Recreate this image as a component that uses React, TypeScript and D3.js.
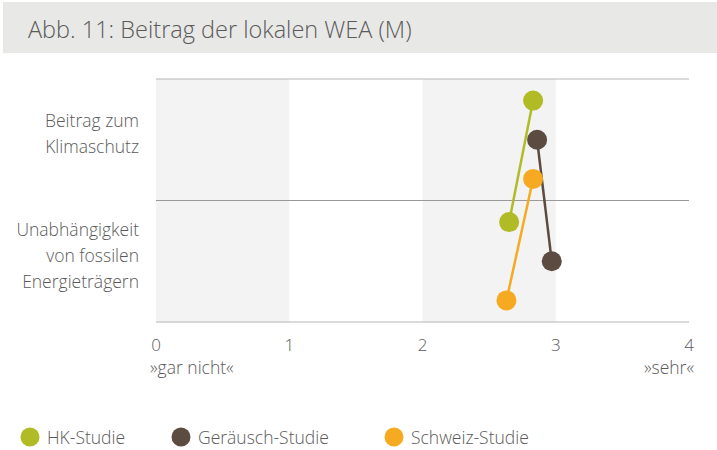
import React from "react";
import * as d3 from "d3";

const categories = ["Beitrag zum Klimaschutz", "Unabhängigkeit von fossilen Energieträgern"];
const categoryLines = [["Beitrag zum", "Klimaschutz"], ["Unabhängigkeit", "von fossilen", "Energieträgern"]];
const seriesNames = ["HK-Studie", "Geräusch-Studie", "Schweiz-Studie"];
const seriesColors = ["#b0bb26", "#5b4b41", "#f5aa22"];
const hkValues = [2.83, 2.65];
const geraeuschValues = [2.86, 2.97];
const schweizValues = [2.83, 2.63];
const xTicks = [0, 1, 2, 3, 4];
const shadedBands = [[0, 1], [2, 3]];

const W = 717, H = 450;
const left = 156, right = 689, top = 79, bottom = 322;

export default function App() {
  const x = d3.scaleLinear().domain([0, 4]).range([left, right]);
  const yBand = d3.scaleBand().domain(categories).range([top, bottom]);
  const ySub = d3.scalePoint().domain(seriesNames).range([0, yBand.bandwidth()]).padding(0.55);
  const seriesValues = [hkValues, geraeuschValues, schweizValues];
  const font = "'Open Sans', sans-serif";
  const textColor = "#5a5a5a";
  const line = d3.line<[number, number]>().x(d => d[0]).y(d => d[1]);

  return (
    <svg width={W} height={H} style={{ position: "absolute", left: 0, top: 0 }} fontFamily={font}>
      <rect x={3} y={2} width={W - 3} height={51} fill="#e8e8e6" />
      <text x={28} y={38} fontSize={23.5} fontWeight={300} fill={textColor}>Abb. 11: Beitrag der lokalen WEA (M)</text>

      {shadedBands.map((b, i) => (
        <rect key={i} x={x(b[0])} y={top} width={x(b[1]) - x(b[0])} height={bottom - top} fill="#f3f3f3" />
      ))}
      {[top, yBand(categories[1])!, bottom].map((yy, i) => (
        <line key={i} x1={left} x2={right} y1={yy} y2={yy} stroke={i === 1 ? "#999" : "#b5b5b5"} strokeWidth={1.2} />
      ))}

      {categories.map((c, ci) => {
        const lines = categoryLines[ci];
        const cy = yBand(c)! + yBand.bandwidth() / 2;
        const lh = 26;
        const y0 = cy - ((lines.length - 1) * lh) / 2 + 0.5;
        return lines.map((t, li) => (
          <text key={ci + "-" + li} x={139} y={y0 + li * lh} textAnchor="end" fontSize={17.5} fontWeight={300} fill={textColor}>{t}</text>
        ));
      })}

      {seriesNames.map((s, si) => {
        const pts: [number, number][] = categories.map((c, ci) => [x(seriesValues[si][ci]), yBand(c)! + ySub(s)!]);
        return (
          <g key={s}>
            <path d={line(pts)!} stroke={seriesColors[si]} strokeWidth={2.5} fill="none" />
            {pts.map((p, pi) => (
              <circle key={pi} cx={p[0]} cy={p[1]} r={10} fill={seriesColors[si]} />
            ))}
          </g>
        );
      })}

      {xTicks.map(t => (
        <text key={t} x={x(t)} y={350.5} textAnchor="middle" fontSize={17} fontWeight={300} fill={textColor}>{t}</text>
      ))}
      <text x={x(0) - 6} y={373.5} fontSize={17.5} fontWeight={300} fill={textColor}>»gar nicht«</text>
      <text x={x(4) + 5} y={373.5} textAnchor="end" fontSize={17.5} fontWeight={300} fill={textColor}>»sehr«</text>

      {seriesNames.map((s, si) => {
        const lx = [30, 181, 394][si];
        return (
          <g key={s}>
            <circle cx={lx} cy={437} r={9.5} fill={seriesColors[si]} />
            <text x={lx + 17} y={443.5} fontSize={17.5} fontWeight={300} fill={textColor}>{s}</text>
          </g>
        );
      })}
    </svg>
  );
}
